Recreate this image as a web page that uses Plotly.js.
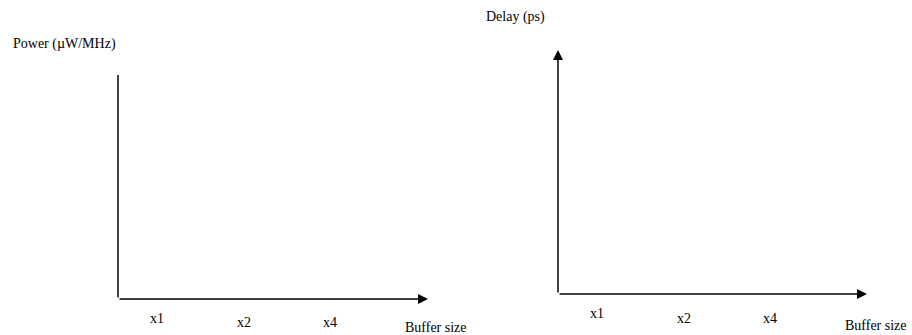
<!DOCTYPE html>
<html>
<head>
<meta charset="utf-8">
<script src="https://cdn.plot.ly/plotly-3.0.1.min.js"></script>
<style>html,body{margin:0;padding:0;background:#fff;}#chart{width:912px;height:335px;}</style>
</head>
<body>
<div id="chart"></div>
<script>
// ---- chart content ----
const categories = ['x1', 'x2', 'x4'];
const xAxisTitle = 'Buffer size';
const leftYAxisTitle = 'Power (\u00b5W/MHz)';
const rightYAxisTitle = 'Delay (ps)';

// ---- layout geometry (pixels) ----
const W = 912, H = 335;
const fx = p => p / W;
const fy = p => 1 - p / H;
const FONT = {family: 'Liberation Serif, Times New Roman, serif', size: 14, color: '#000'};
const unit = 86.5; // px between category positions

const panels = [
  {xa: 'x', ya: 'y', x0: 118, xTip: 428, yBase: 299, yTop: 75, yArrow: false,
   firstCat: 157, labelY: [318.5, 322.5, 322.5], titleX: 403, titleY: 327.5},
  {xa: 'x2', ya: 'y2', x0: 558, xTip: 867, yBase: 294, yTop: 50, yArrow: true,
   firstCat: 597, labelY: [313.5, 318.5, 318.5], titleX: 843, titleY: 325.5}
];

const traces = [];
const annotations = [];
const layout = {
  width: W, height: H,
  margin: {l: 0, r: 0, t: 0, b: 0},
  paper_bgcolor: '#fff', plot_bgcolor: '#fff',
  showlegend: false,
  font: FONT,
  annotations: annotations
};

panels.forEach((p, k) => {
  const sx = k === 0 ? '' : '2';
  const r0 = (p.x0 - p.firstCat) / unit;
  const r1 = (p.xTip - p.firstCat) / unit;
  layout['xaxis' + sx] = {
    domain: [fx(p.x0), fx(p.xTip)], range: [r0, r1], type: 'linear',
    visible: false, anchor: p.ya, fixedrange: true
  };
  layout['yaxis' + sx] = {
    domain: [fy(p.yBase), fy(p.yTop)], range: [0, 1],
    visible: false, anchor: p.xa, fixedrange: true
  };
  traces.push({
    x: categories.map((c, i) => i), y: categories.map(() => null),
    xaxis: p.xa, yaxis: p.ya, mode: 'markers', hoverinfo: 'skip', showlegend: false
  });
  // x axis line with arrow
  annotations.push({
    xref: 'paper', yref: 'paper', x: fx(p.xTip), y: fy(p.yBase),
    ax: -(p.xTip - p.x0), ay: 0, text: '', font: {size: 1},
    showarrow: true, arrowhead: 2, arrowsize: 1.33, arrowwidth: 1.5, arrowcolor: '#000'
  });
  // y axis line
  annotations.push({
    xref: 'paper', yref: 'paper', x: fx(p.x0), y: fy(p.yTop),
    ax: 0, ay: (p.yBase - p.yTop), text: '', font: {size: 1},
    showarrow: true, arrowhead: p.yArrow ? 2 : 0, arrowsize: 1.33, arrowwidth: 1.5, arrowcolor: '#000'
  });
  // category labels
  categories.forEach((c, i) => {
    annotations.push({
      xref: p.xa, yref: 'paper', x: i, y: fy(p.labelY[i]),
      text: c, showarrow: false, xanchor: 'center', yanchor: 'middle', font: FONT
    });
  });
  // x axis title
  annotations.push({
    xref: 'paper', yref: 'paper', x: fx(p.titleX), y: fy(p.titleY),
    text: xAxisTitle, showarrow: false, xanchor: 'left', yanchor: 'middle', font: FONT
  });
});

annotations.push({
  xref: 'paper', yref: 'paper', x: fx(11), y: fy(44),
  text: leftYAxisTitle, showarrow: false, xanchor: 'left', yanchor: 'middle', font: FONT
});
annotations.push({
  xref: 'paper', yref: 'paper', x: fx(547), y: fy(17),
  text: rightYAxisTitle, showarrow: false, xanchor: 'right', yanchor: 'middle', font: FONT
});

Plotly.newPlot('chart', traces, layout, {displayModeBar: false, staticPlot: true});
</script>
</body>
</html>
